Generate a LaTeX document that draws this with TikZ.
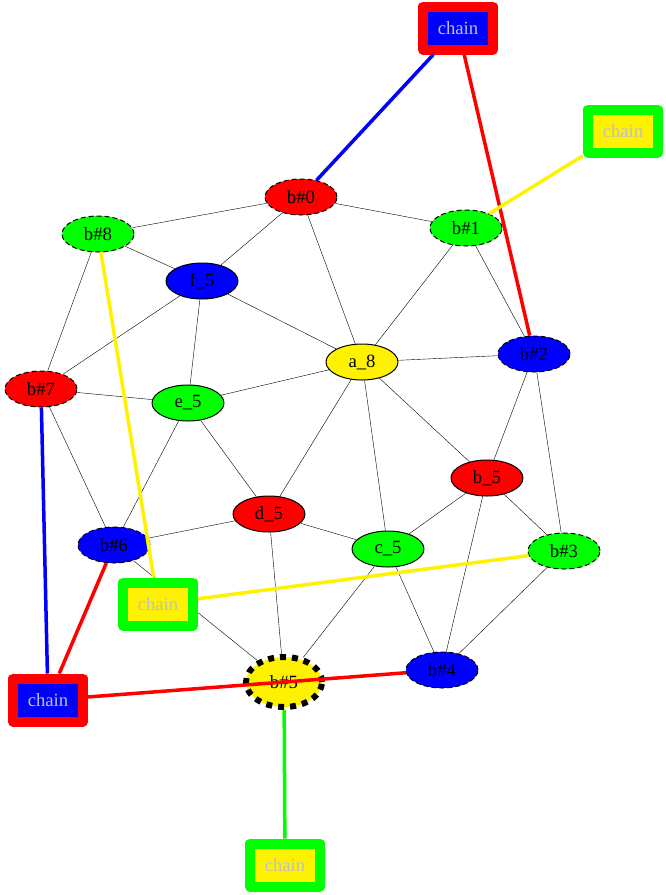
\documentclass[tikz,border=0pt]{standalone}
\usepackage{fontspec}
\setmainfont{Liberation Serif}
\usetikzlibrary{shapes.geometric,backgrounds}
\definecolor{chaingray}{RGB}{192,192,192}
\begin{document}
\begin{tikzpicture}[x=1pt,y=-1pt,line join=round,
  vert/.style={ellipse,draw,line width=1pt,inner sep=0pt,minimum width=72pt,minimum height=36pt,font=\fontsize{18.7}{22}\selectfont},
  bvert/.style={vert,dash pattern=on 5pt off 3pt},
  chainbox/.style={rectangle,line width=10pt,minimum width=70pt,minimum height=43pt,inner sep=0pt,text=chaingray,font=\fontsize{18.7}{22}\selectfont},
  edge/.style={line width=1pt},
  link/.style={line width=3.5pt}]
\useasboundingbox (0,0) rectangle (665,895);
\node[bvert,fill=red] (b0) at (301,197) {b\#0};
\node[bvert,fill=green] (b1) at (466,228) {b\#1};
\node[bvert,fill=blue] (b2) at (534,354) {b\#2};
\node[bvert,fill=green] (b3) at (564,551) {b\#3};
\node[bvert,fill=blue] (b4) at (442,670) {b\#4};
\node[vert,fill=yellow,line width=6pt,dash pattern=on 6pt off 6pt,minimum width=76pt,minimum height=50pt] (b5) at (284,682) {b\#5};
\node[bvert,fill=blue] (b6) at (114,545) {b\#6};
\node[bvert,fill=red] (b7) at (41,389) {b\#7};
\node[bvert,fill=green] (b8) at (98,234) {b\#8};
\node[vert,fill=yellow] (a8) at (362,362) {a\_8};
\node[vert,fill=red] (b_5) at (487,478) {b\_5};
\node[vert,fill=green] (c5) at (388,549) {c\_5};
\node[vert,fill=red] (d5) at (269,514) {d\_5};
\node[vert,fill=green] (e5) at (188,403) {e\_5};
\node[vert,fill=blue] (f5) at (202,281) {f\_5};
\node[chainbox,draw=red,fill=blue] (chainA) at (458,28) {chain};
\node[chainbox,draw=green,fill=yellow] (chainB) at (623,131) {chain};
\node[chainbox,draw=green,fill=yellow] (chainC) at (158,604) {chain};
\node[chainbox,draw=red,fill=blue] (chainD) at (48,700) {chain};
\node[chainbox,draw=green,fill=yellow] (chainE) at (285,865) {chain};
\begin{scope}[on background layer,edge]
\draw (b0) -- (b8);
\draw (b0) -- (b1);
\draw (b0) -- (f5);
\draw (b0) -- (a8);
\draw (b8) -- (f5);
\draw (b8) -- (b7);
\draw (f5) -- (b7);
\draw (f5) -- (e5);
\draw (f5) -- (a8);
\draw (b1) -- (a8);
\draw (b1) -- (b2);
\draw (a8) -- (b2);
\draw (a8) -- (e5);
\draw (a8) -- (d5);
\draw (a8) -- (c5);
\draw (a8) -- (b_5);
\draw (b7) -- (e5);
\draw (b7) -- (b6);
\draw (e5) -- (b6);
\draw (e5) -- (d5);
\draw (b2) -- (b_5);
\draw (b2) -- (b3);
\draw (b_5) -- (c5);
\draw (b_5) -- (b3);
\draw (b_5) -- (b4);
\draw (d5) -- (b6);
\draw (d5) -- (c5);
\draw (d5) -- (b5);
\draw (c5) -- (b5);
\draw (c5) -- (b4);
\draw (b3) -- (b4);
\draw (b6) -- (b5);
\end{scope}
\draw[link,blue] (chainA) -- (b0);
\draw[link,red] (chainA) -- (b2);
\draw[link,yellow] (chainB) -- (b1);
\draw[link,yellow] (b8) -- (chainC);
\draw[link,yellow] (chainC) -- (b3);
\draw[link,blue] (b7) -- (chainD);
\draw[link,red] (b6) -- (chainD);
\draw[link,red] (chainD) -- (b4);
\draw[link,green] (b5) -- (chainE);
\end{tikzpicture}
\end{document}
